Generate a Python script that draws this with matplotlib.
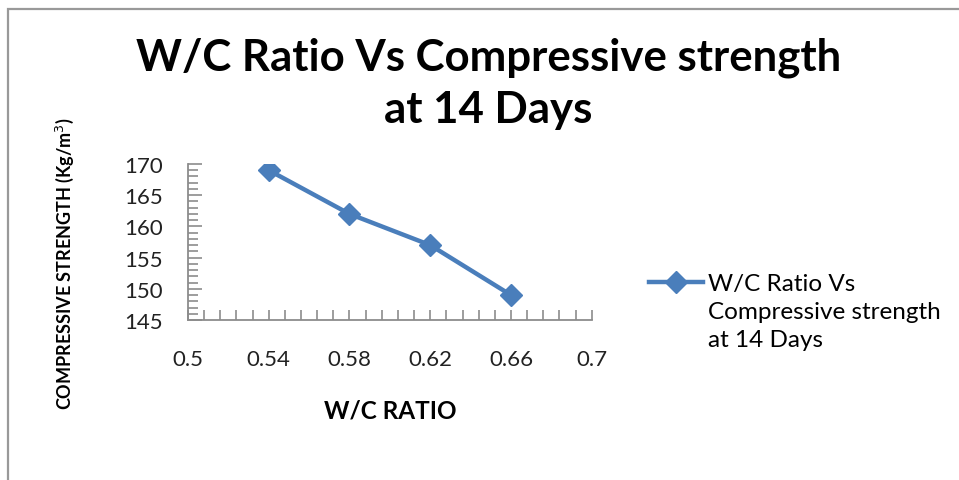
import matplotlib
matplotlib.use("Agg")
import matplotlib.pyplot as plt
from matplotlib.ticker import MultipleLocator
from matplotlib.patches import Rectangle

# data
wc_ratio = [0.54, 0.58, 0.62, 0.66]
strength = [169, 162, 157, 149]
x_ticks = [0.5, 0.54, 0.58, 0.62, 0.66, 0.7]
x_ticklabels = ["0.5", "0.54", "0.58", "0.62", "0.66", "0.7"]
series_name = "W/C Ratio Vs\nCompressive strength\nat 14 Days"

plt.rcParams['font.family'] = ['Lato', 'DejaVu Sans']

fig = plt.figure(figsize=(9.59, 4.81), dpi=100)
ax = fig.add_axes([0.196, 0.3326, 0.421, 0.3244])

line_color = '#4A7EBB'
ax.plot(wc_ratio, strength, color=line_color, linewidth=3.2, marker='D',
        markersize=11, label=series_name)

ax.set_xlim(0.5, 0.7)
ax.set_ylim(145, 170)
ax.set_xticks(x_ticks)
ax.set_xticklabels(x_ticklabels)
ax.xaxis.set_minor_locator(MultipleLocator(0.008, offset=0.004))
ax.yaxis.set_major_locator(MultipleLocator(5))
ax.yaxis.set_minor_locator(MultipleLocator(1))

for s in ['top', 'right']:
    ax.spines[s].set_visible(False)
for s in ['left', 'bottom']:
    ax.spines[s].set_color('#8c8c8c')
    ax.spines[s].set_linewidth(1.3)

grey = '#8c8c8c'
ax.tick_params(axis='x', which='major', direction='in', length=7, width=1.2,
               color=grey, labelsize=16, pad=21)
ax.tick_params(axis='x', which='minor', direction='in', length=7, width=1.2,
               color=grey)
ax.tick_params(axis='y', which='major', direction='in', length=10, width=1.2,
               color=grey, labelsize=16, pad=18)
ax.tick_params(axis='y', which='minor', direction='in', length=7, width=1.2,
               color=grey)
for lab in ax.get_xticklabels() + ax.get_yticklabels():
    lab.set_color('#222222')

fig.text(0.509, 0.826, "W/C Ratio Vs Compressive strength\nat 14 Days",
         ha='center', va='center', fontsize=31.5, fontweight='bold',
         linespacing=1.38)

fig.text(0.4065, 1 - 411 / 481, "W/C RATIO", ha='center', va='center',
         fontsize=17.5, fontweight='bold')
fig.text(0.068, 0.451, "COMPRESSIVE STRENGTH (Kg/m$^3$)", rotation=90,
         ha='center', va='center', fontsize=13, fontweight='bold')

leg = ax.legend(loc='upper left', bbox_to_anchor=(0.677, 1 - 274 / 481),
                bbox_transform=fig.transFigure, frameon=False, fontsize=17.5,
                handlelength=2.2, handletextpad=0.2, borderpad=0,
                borderaxespad=0, labelspacing=0.3)
# keep the key level with the first line of the label
item = leg._legend_handle_box.get_children()[0].get_children()[0]
item.align = 'top'
for t in leg.get_texts():
    t.set_linespacing(1.42)

# outer chart border (cropped on right and bottom)
fig.add_artist(Rectangle((0.0083, -0.05), 1.2, 1.029,
                         transform=fig.transFigure, fill=False,
                         edgecolor='#999999', linewidth=1.6))

fig.savefig("out.png", dpi=100)
